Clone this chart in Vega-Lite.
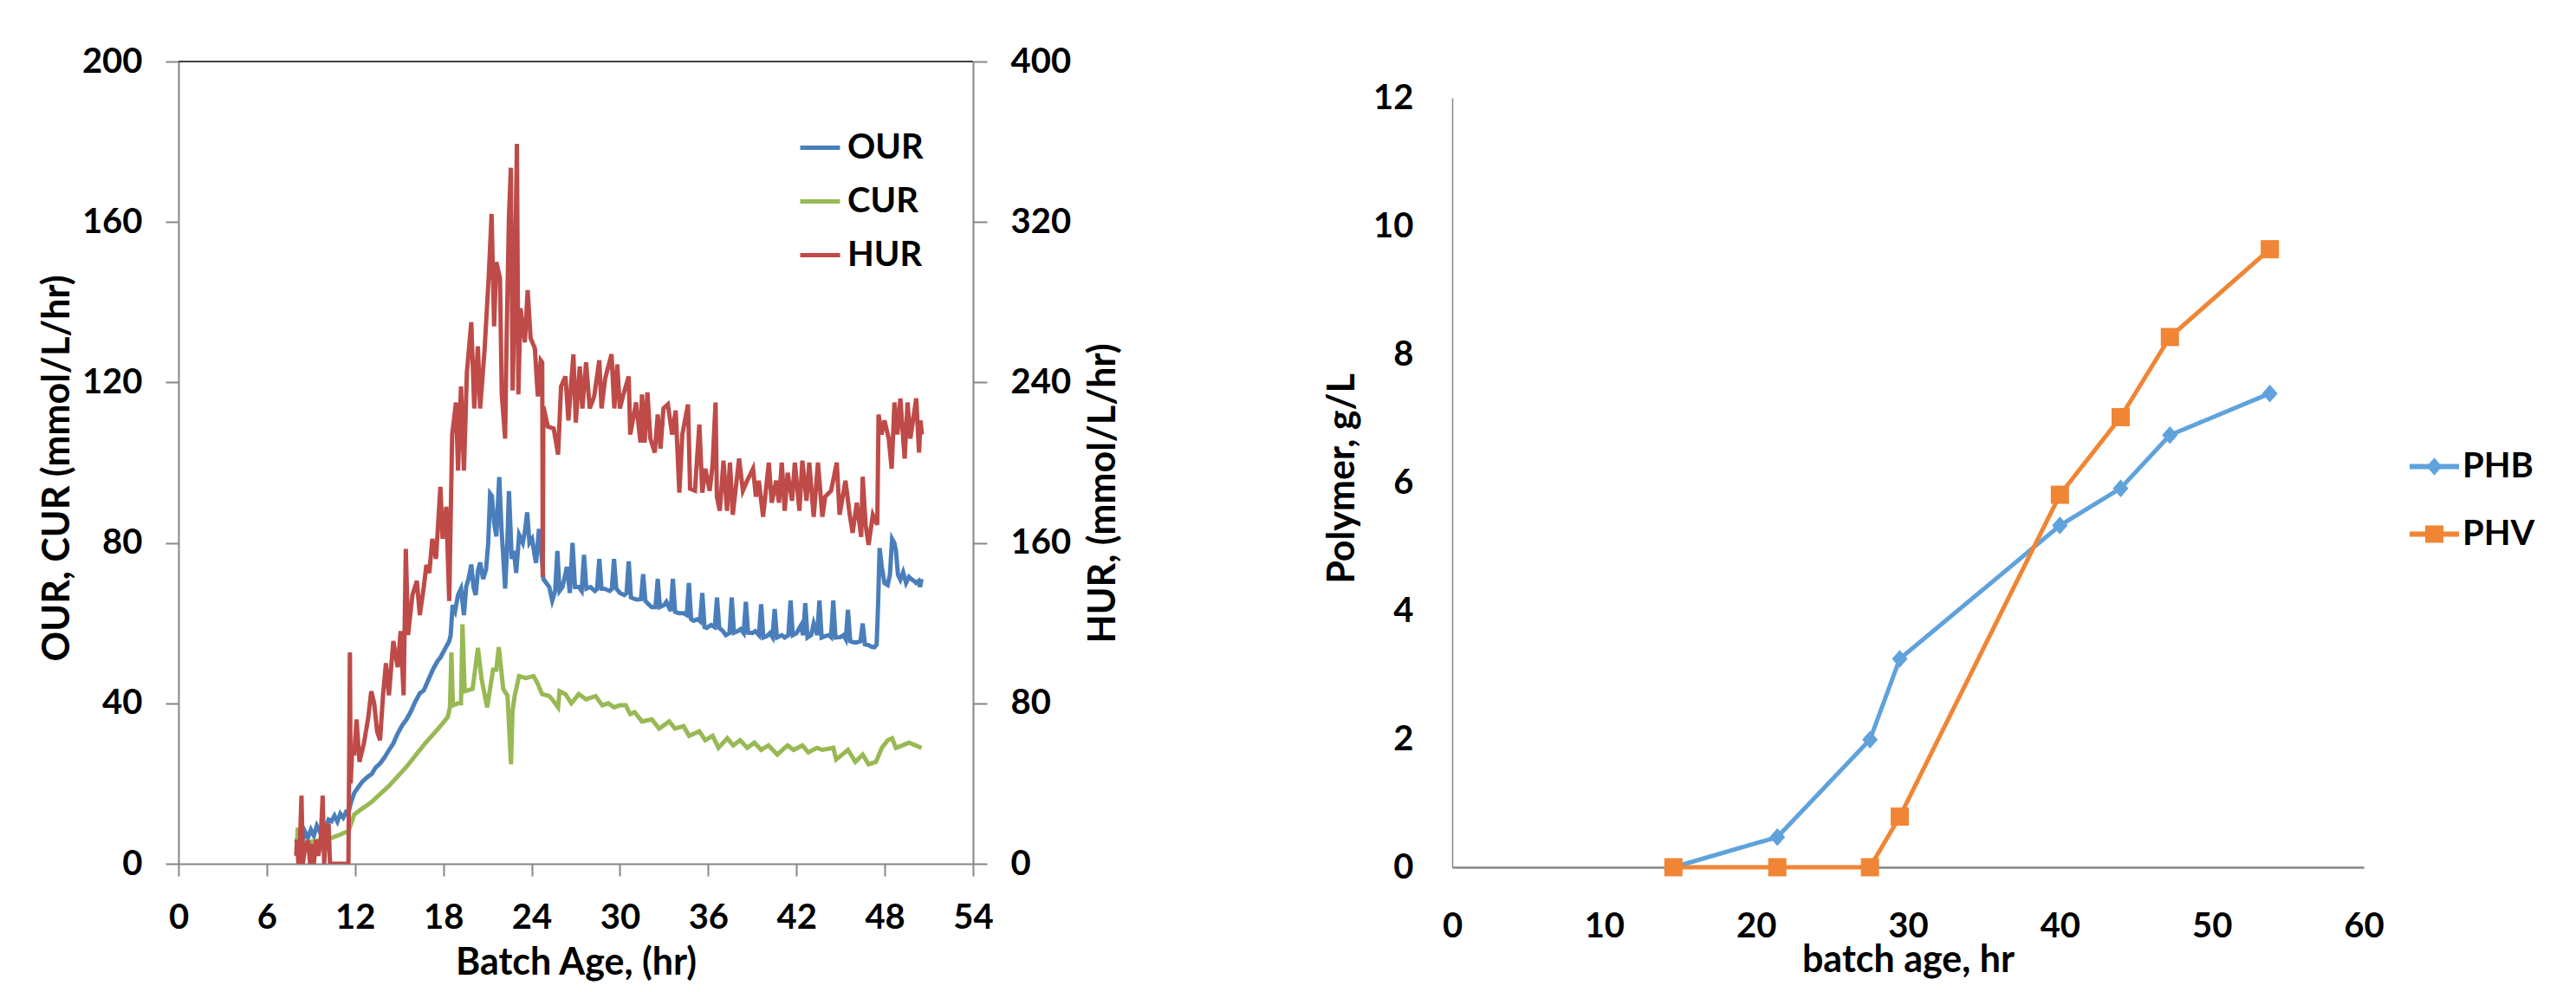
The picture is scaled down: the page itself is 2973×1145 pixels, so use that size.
{
  "$schema": "https://vega.github.io/schema/vega-lite/v6.json",
  "background": "white",
  "padding": {"left": 45, "top": 51, "right": 50, "bottom": 10},
  "config": {
    "view": {"stroke": null},
    "font": "Lato",
    "axis": {
      "labelFont": "Lato", "labelFontSize": 40, "labelFontWeight": "bold", "labelColor": "black",
      "titleFont": "Lato", "titleFontSize": 43, "titleFontWeight": "bold", "titleColor": "black",
      "domainColor": "#868686", "domainWidth": 2, "tickColor": "#868686", "tickWidth": 2,
      "grid": false, "labelFlush": false, "labelOverlap": false
    },
    "legend": {
      "labelFont": "Lato", "labelFontSize": 40, "labelFontWeight": "bold", "labelColor": "black",
      "padding": 0
    }
  },
  "datasets": {
    "rates": [
      {"t": 8.0, "s": "OUR", "v": 5.5}, {"t": 8.2, "s": "OUR", "v": 7.5}, {"t": 8.4, "s": "OUR", "v": 5}, {"t": 8.6, "s": "OUR", "v": 8}, {"t": 8.8, "s": "OUR", "v": 6.5},
      {"t": 9.0, "s": "OUR", "v": 8.5}, {"t": 9.2, "s": "OUR", "v": 7}, {"t": 9.4, "s": "OUR", "v": 9.5}, {"t": 9.6, "s": "OUR", "v": 8}, {"t": 9.8, "s": "OUR", "v": 10},
      {"t": 10.0, "s": "OUR", "v": 9}, {"t": 10.2, "s": "OUR", "v": 11}, {"t": 10.4, "s": "OUR", "v": 10.6}, {"t": 10.6, "s": "OUR", "v": 12}, {"t": 10.8, "s": "OUR", "v": 10.5},
      {"t": 11.0, "s": "OUR", "v": 12.5}, {"t": 11.2, "s": "OUR", "v": 11.5}, {"t": 11.4, "s": "OUR", "v": 13}, {"t": 11.56, "s": "OUR", "v": 12.9}, {"t": 11.7, "s": "OUR", "v": 15},
      {"t": 11.95, "s": "OUR", "v": 17.7}, {"t": 12.2, "s": "OUR", "v": 19}, {"t": 12.5, "s": "OUR", "v": 20.5}, {"t": 12.8, "s": "OUR", "v": 21.5}, {"t": 13.13, "s": "OUR", "v": 22.4},
      {"t": 13.4, "s": "OUR", "v": 24}, {"t": 13.7, "s": "OUR", "v": 25}, {"t": 14.0, "s": "OUR", "v": 26.5}, {"t": 14.3, "s": "OUR", "v": 28.3}, {"t": 14.6, "s": "OUR", "v": 30},
      {"t": 14.9, "s": "OUR", "v": 32.5}, {"t": 15.2, "s": "OUR", "v": 34.5}, {"t": 15.5, "s": "OUR", "v": 36}, {"t": 15.8, "s": "OUR", "v": 38}, {"t": 16.1, "s": "OUR", "v": 40.5},
      {"t": 16.4, "s": "OUR", "v": 42.5}, {"t": 16.67, "s": "OUR", "v": 43.2}, {"t": 17.0, "s": "OUR", "v": 46}, {"t": 17.3, "s": "OUR", "v": 48.5}, {"t": 17.6, "s": "OUR", "v": 50.5},
      {"t": 17.8, "s": "OUR", "v": 51.4}, {"t": 18.1, "s": "OUR", "v": 53.5}, {"t": 18.4, "s": "OUR", "v": 55.5}, {"t": 18.5, "s": "OUR", "v": 57}, {"t": 18.63, "s": "OUR", "v": 64.5},
      {"t": 18.8, "s": "OUR", "v": 63}, {"t": 19.0, "s": "OUR", "v": 67}, {"t": 19.2, "s": "OUR", "v": 68.6}, {"t": 19.4, "s": "OUR", "v": 62}, {"t": 19.55, "s": "OUR", "v": 69},
      {"t": 19.71, "s": "OUR", "v": 71}, {"t": 19.9, "s": "OUR", "v": 74.6}, {"t": 20.05, "s": "OUR", "v": 69}, {"t": 20.2, "s": "OUR", "v": 67}, {"t": 20.35, "s": "OUR", "v": 73},
      {"t": 20.5, "s": "OUR", "v": 75.1}, {"t": 20.7, "s": "OUR", "v": 71}, {"t": 20.9, "s": "OUR", "v": 73.3}, {"t": 21.05, "s": "OUR", "v": 80}, {"t": 21.18, "s": "OUR", "v": 92.3},
      {"t": 21.3, "s": "OUR", "v": 91.7}, {"t": 21.45, "s": "OUR", "v": 85}, {"t": 21.6, "s": "OUR", "v": 81.6}, {"t": 21.8, "s": "OUR", "v": 96.4}, {"t": 21.95, "s": "OUR", "v": 83.5},
      {"t": 22.05, "s": "OUR", "v": 78}, {"t": 22.2, "s": "OUR", "v": 68.6}, {"t": 22.35, "s": "OUR", "v": 80}, {"t": 22.46, "s": "OUR", "v": 92.9}, {"t": 22.65, "s": "OUR", "v": 76},
      {"t": 22.8, "s": "OUR", "v": 78}, {"t": 22.95, "s": "OUR", "v": 72.5}, {"t": 23.15, "s": "OUR", "v": 82}, {"t": 23.4, "s": "OUR", "v": 80}, {"t": 23.55, "s": "OUR", "v": 83},
      {"t": 23.7, "s": "OUR", "v": 87.6}, {"t": 23.85, "s": "OUR", "v": 80}, {"t": 24.03, "s": "OUR", "v": 81}, {"t": 24.2, "s": "OUR", "v": 77}, {"t": 24.3, "s": "OUR", "v": 75},
      {"t": 24.5, "s": "OUR", "v": 83.5}, {"t": 24.65, "s": "OUR", "v": 78}, {"t": 24.8, "s": "OUR", "v": 71}, {"t": 25.0, "s": "OUR", "v": 70}, {"t": 25.2, "s": "OUR", "v": 69},
      {"t": 25.4, "s": "OUR", "v": 65.6}, {"t": 25.6, "s": "OUR", "v": 68}, {"t": 25.75, "s": "OUR", "v": 78}, {"t": 25.9, "s": "OUR", "v": 68}, {"t": 26.1, "s": "OUR", "v": 69},
      {"t": 26.4, "s": "OUR", "v": 74}, {"t": 26.6, "s": "OUR", "v": 67.5}, {"t": 26.78, "s": "OUR", "v": 80}, {"t": 26.95, "s": "OUR", "v": 69}, {"t": 27.2, "s": "OUR", "v": 69},
      {"t": 27.4, "s": "OUR", "v": 68}, {"t": 27.56, "s": "OUR", "v": 77}, {"t": 27.72, "s": "OUR", "v": 68.6}, {"t": 28.0, "s": "OUR", "v": 69}, {"t": 28.3, "s": "OUR", "v": 68},
      {"t": 28.45, "s": "OUR", "v": 68.5}, {"t": 28.6, "s": "OUR", "v": 76}, {"t": 28.75, "s": "OUR", "v": 68.6}, {"t": 29.0, "s": "OUR", "v": 68.5}, {"t": 29.3, "s": "OUR", "v": 68},
      {"t": 29.45, "s": "OUR", "v": 68.5}, {"t": 29.6, "s": "OUR", "v": 76}, {"t": 29.75, "s": "OUR", "v": 68.6}, {"t": 30.0, "s": "OUR", "v": 67.5}, {"t": 30.3, "s": "OUR", "v": 67},
      {"t": 30.45, "s": "OUR", "v": 67.5}, {"t": 30.6, "s": "OUR", "v": 75.4}, {"t": 30.75, "s": "OUR", "v": 66.4}, {"t": 31.0, "s": "OUR", "v": 66}, {"t": 31.2, "s": "OUR", "v": 65.9},
      {"t": 31.43, "s": "OUR", "v": 66}, {"t": 31.58, "s": "OUR", "v": 72.2}, {"t": 31.73, "s": "OUR", "v": 65.5}, {"t": 32.0, "s": "OUR", "v": 64.5}, {"t": 32.17, "s": "OUR", "v": 64},
      {"t": 32.42, "s": "OUR", "v": 64}, {"t": 32.57, "s": "OUR", "v": 71}, {"t": 32.72, "s": "OUR", "v": 64}, {"t": 33.0, "s": "OUR", "v": 64.5}, {"t": 33.16, "s": "OUR", "v": 65.3},
      {"t": 33.45, "s": "OUR", "v": 63}, {"t": 33.6, "s": "OUR", "v": 71}, {"t": 33.75, "s": "OUR", "v": 62.8}, {"t": 34.0, "s": "OUR", "v": 62.5}, {"t": 34.3, "s": "OUR", "v": 62.5},
      {"t": 34.54, "s": "OUR", "v": 62}, {"t": 34.69, "s": "OUR", "v": 70}, {"t": 34.84, "s": "OUR", "v": 61}, {"t": 35.0, "s": "OUR", "v": 60.6}, {"t": 35.3, "s": "OUR", "v": 61},
      {"t": 35.45, "s": "OUR", "v": 60.5}, {"t": 35.6, "s": "OUR", "v": 67.5}, {"t": 35.75, "s": "OUR", "v": 59}, {"t": 35.9, "s": "OUR", "v": 58.8}, {"t": 36.2, "s": "OUR", "v": 59.5},
      {"t": 36.45, "s": "OUR", "v": 59}, {"t": 36.6, "s": "OUR", "v": 66.4}, {"t": 36.75, "s": "OUR", "v": 58.8}, {"t": 37.0, "s": "OUR", "v": 58}, {"t": 37.2, "s": "OUR", "v": 57},
      {"t": 37.45, "s": "OUR", "v": 57.5}, {"t": 37.6, "s": "OUR", "v": 66.4}, {"t": 37.75, "s": "OUR", "v": 57.6}, {"t": 38.0, "s": "OUR", "v": 58}, {"t": 38.2, "s": "OUR", "v": 58.5},
      {"t": 38.41, "s": "OUR", "v": 57.5}, {"t": 38.56, "s": "OUR", "v": 65.3}, {"t": 38.71, "s": "OUR", "v": 57.6}, {"t": 39.0, "s": "OUR", "v": 57.5}, {"t": 39.2, "s": "OUR", "v": 58},
      {"t": 39.45, "s": "OUR", "v": 57}, {"t": 39.6, "s": "OUR", "v": 64.7}, {"t": 39.75, "s": "OUR", "v": 56.4}, {"t": 40.0, "s": "OUR", "v": 56.8}, {"t": 40.2, "s": "OUR", "v": 57.5},
      {"t": 40.37, "s": "OUR", "v": 56.5}, {"t": 40.52, "s": "OUR", "v": 63.5}, {"t": 40.67, "s": "OUR", "v": 56.4}, {"t": 41.0, "s": "OUR", "v": 57}, {"t": 41.2, "s": "OUR", "v": 56.4},
      {"t": 41.45, "s": "OUR", "v": 57}, {"t": 41.6, "s": "OUR", "v": 65.6}, {"t": 41.75, "s": "OUR", "v": 57}, {"t": 42.0, "s": "OUR", "v": 57.5}, {"t": 42.3, "s": "OUR", "v": 59.4},
      {"t": 42.45, "s": "OUR", "v": 57}, {"t": 42.6, "s": "OUR", "v": 65}, {"t": 42.75, "s": "OUR", "v": 56.4}, {"t": 43.0, "s": "OUR", "v": 57}, {"t": 43.17, "s": "OUR", "v": 59.9},
      {"t": 43.41, "s": "OUR", "v": 57}, {"t": 43.56, "s": "OUR", "v": 65.6}, {"t": 43.71, "s": "OUR", "v": 56.4}, {"t": 44.0, "s": "OUR", "v": 56.8}, {"t": 44.2, "s": "OUR", "v": 57},
      {"t": 44.35, "s": "OUR", "v": 56.5}, {"t": 44.5, "s": "OUR", "v": 65.6}, {"t": 44.65, "s": "OUR", "v": 56.4}, {"t": 45.0, "s": "OUR", "v": 56.5}, {"t": 45.2, "s": "OUR", "v": 57},
      {"t": 45.35, "s": "OUR", "v": 56}, {"t": 45.5, "s": "OUR", "v": 63.3}, {"t": 45.65, "s": "OUR", "v": 55.5}, {"t": 45.9, "s": "OUR", "v": 55.2}, {"t": 46.1, "s": "OUR", "v": 55.2},
      {"t": 46.35, "s": "OUR", "v": 55.5}, {"t": 46.5, "s": "OUR", "v": 59.9}, {"t": 46.65, "s": "OUR", "v": 54.7}, {"t": 46.9, "s": "OUR", "v": 54.5}, {"t": 47.1, "s": "OUR", "v": 54.1},
      {"t": 47.3, "s": "OUR", "v": 54}, {"t": 47.45, "s": "OUR", "v": 54.7}, {"t": 47.55, "s": "OUR", "v": 65}, {"t": 47.65, "s": "OUR", "v": 78.7}, {"t": 47.8, "s": "OUR", "v": 74},
      {"t": 47.98, "s": "OUR", "v": 70}, {"t": 48.2, "s": "OUR", "v": 69.5}, {"t": 48.35, "s": "OUR", "v": 72}, {"t": 48.5, "s": "OUR", "v": 81}, {"t": 48.65, "s": "OUR", "v": 80},
      {"t": 48.76, "s": "OUR", "v": 78}, {"t": 48.9, "s": "OUR", "v": 72}, {"t": 49.06, "s": "OUR", "v": 70.8}, {"t": 49.25, "s": "OUR", "v": 72.7}, {"t": 49.45, "s": "OUR", "v": 70},
      {"t": 49.65, "s": "OUR", "v": 71.5}, {"t": 49.8, "s": "OUR", "v": 71}, {"t": 50.0, "s": "OUR", "v": 70.5}, {"t": 50.13, "s": "OUR", "v": 70}, {"t": 50.3, "s": "OUR", "v": 70.5},
      {"t": 50.4, "s": "OUR", "v": 69}, {"t": 50.5, "s": "OUR", "v": 71},

      {"t": 8.05, "s": "CUR", "v": 4}, {"t": 8.1, "s": "CUR", "v": 9}, {"t": 8.2, "s": "CUR", "v": 5}, {"t": 9.0, "s": "CUR", "v": 5.5}, {"t": 10.38, "s": "CUR", "v": 6.4},
      {"t": 11.0, "s": "CUR", "v": 7.3}, {"t": 11.56, "s": "CUR", "v": 8.2}, {"t": 11.95, "s": "CUR", "v": 12.3}, {"t": 12.5, "s": "CUR", "v": 13.8}, {"t": 13.1, "s": "CUR", "v": 15.3},
      {"t": 14.3, "s": "CUR", "v": 19.4}, {"t": 15.5, "s": "CUR", "v": 24.2}, {"t": 16.67, "s": "CUR", "v": 29.6}, {"t": 17.8, "s": "CUR", "v": 34.3}, {"t": 18.3, "s": "CUR", "v": 36.6},
      {"t": 18.45, "s": "CUR", "v": 39}, {"t": 18.55, "s": "CUR", "v": 52.7}, {"t": 18.65, "s": "CUR", "v": 39.5}, {"t": 19.0, "s": "CUR", "v": 40}, {"t": 19.2, "s": "CUR", "v": 40},
      {"t": 19.3, "s": "CUR", "v": 59.7}, {"t": 19.45, "s": "CUR", "v": 43}, {"t": 19.99, "s": "CUR", "v": 43.6}, {"t": 20.35, "s": "CUR", "v": 53.8}, {"t": 20.6, "s": "CUR", "v": 46},
      {"t": 20.98, "s": "CUR", "v": 39}, {"t": 21.38, "s": "CUR", "v": 48.4}, {"t": 21.6, "s": "CUR", "v": 48.4}, {"t": 21.77, "s": "CUR", "v": 54}, {"t": 22.07, "s": "CUR", "v": 43.6},
      {"t": 22.36, "s": "CUR", "v": 41.9}, {"t": 22.6, "s": "CUR", "v": 24.8}, {"t": 22.7, "s": "CUR", "v": 38}, {"t": 22.85, "s": "CUR", "v": 41.9}, {"t": 23.15, "s": "CUR", "v": 46.8},
      {"t": 23.6, "s": "CUR", "v": 46.3}, {"t": 24.13, "s": "CUR", "v": 46.8}, {"t": 24.4, "s": "CUR", "v": 45}, {"t": 24.71, "s": "CUR", "v": 42.3}, {"t": 25.2, "s": "CUR", "v": 41.8},
      {"t": 25.5, "s": "CUR", "v": 40.5}, {"t": 25.8, "s": "CUR", "v": 39}, {"t": 25.9, "s": "CUR", "v": 43}, {"t": 26.3, "s": "CUR", "v": 42.3}, {"t": 26.7, "s": "CUR", "v": 40},
      {"t": 27.2, "s": "CUR", "v": 42.3}, {"t": 27.7, "s": "CUR", "v": 41}, {"t": 28.35, "s": "CUR", "v": 41.8}, {"t": 28.8, "s": "CUR", "v": 39.5}, {"t": 29.2, "s": "CUR", "v": 40},
      {"t": 29.6, "s": "CUR", "v": 39}, {"t": 30.0, "s": "CUR", "v": 39.5}, {"t": 30.4, "s": "CUR", "v": 39.5}, {"t": 30.7, "s": "CUR", "v": 37.3}, {"t": 31.0, "s": "CUR", "v": 37.8},
      {"t": 31.5, "s": "CUR", "v": 35.5}, {"t": 32.17, "s": "CUR", "v": 36}, {"t": 32.67, "s": "CUR", "v": 33.7}, {"t": 33.35, "s": "CUR", "v": 35.5}, {"t": 33.75, "s": "CUR", "v": 33.7},
      {"t": 34.33, "s": "CUR", "v": 34.3}, {"t": 34.7, "s": "CUR", "v": 31.9}, {"t": 35.4, "s": "CUR", "v": 33}, {"t": 35.8, "s": "CUR", "v": 30.8}, {"t": 36.3, "s": "CUR", "v": 31.9},
      {"t": 36.7, "s": "CUR", "v": 28.9}, {"t": 37.3, "s": "CUR", "v": 31.3}, {"t": 37.7, "s": "CUR", "v": 29.5}, {"t": 38.17, "s": "CUR", "v": 30.8}, {"t": 38.65, "s": "CUR", "v": 28.9},
      {"t": 39.14, "s": "CUR", "v": 30.2}, {"t": 39.6, "s": "CUR", "v": 28.4}, {"t": 40.1, "s": "CUR", "v": 29.5}, {"t": 40.7, "s": "CUR", "v": 27.2}, {"t": 41.2, "s": "CUR", "v": 28.9},
      {"t": 41.4, "s": "CUR", "v": 29.5}, {"t": 41.8, "s": "CUR", "v": 28.4}, {"t": 42.4, "s": "CUR", "v": 29.5}, {"t": 42.8, "s": "CUR", "v": 27.8}, {"t": 43.4, "s": "CUR", "v": 28.9},
      {"t": 43.76, "s": "CUR", "v": 28.4}, {"t": 44.5, "s": "CUR", "v": 28.9}, {"t": 44.7, "s": "CUR", "v": 26}, {"t": 45.5, "s": "CUR", "v": 28.4}, {"t": 46.0, "s": "CUR", "v": 25.4},
      {"t": 46.5, "s": "CUR", "v": 27.2}, {"t": 46.9, "s": "CUR", "v": 24.8}, {"t": 47.4, "s": "CUR", "v": 25.4}, {"t": 47.8, "s": "CUR", "v": 28.9}, {"t": 48.2, "s": "CUR", "v": 30.8},
      {"t": 48.5, "s": "CUR", "v": 31.3}, {"t": 48.76, "s": "CUR", "v": 28.9}, {"t": 49.2, "s": "CUR", "v": 29.5}, {"t": 49.65, "s": "CUR", "v": 30.2}, {"t": 50.1, "s": "CUR", "v": 29.5},
      {"t": 50.5, "s": "CUR", "v": 28.9},

      {"t": 8.0, "s": "HUR", "v": 4}, {"t": 8.05, "s": "HUR", "v": 12}, {"t": 8.15, "s": "HUR", "v": 0}, {"t": 8.25, "s": "HUR", "v": 10}, {"t": 8.36, "s": "HUR", "v": 34},
      {"t": 8.45, "s": "HUR", "v": 0}, {"t": 8.6, "s": "HUR", "v": 8}, {"t": 8.8, "s": "HUR", "v": 11.6}, {"t": 8.95, "s": "HUR", "v": 0}, {"t": 9.1, "s": "HUR", "v": 10},
      {"t": 9.2, "s": "HUR", "v": 0}, {"t": 9.35, "s": "HUR", "v": 12}, {"t": 9.5, "s": "HUR", "v": 4}, {"t": 9.65, "s": "HUR", "v": 10}, {"t": 9.8, "s": "HUR", "v": 34},
      {"t": 9.9, "s": "HUR", "v": 0}, {"t": 10.05, "s": "HUR", "v": 16}, {"t": 10.2, "s": "HUR", "v": 20}, {"t": 10.3, "s": "HUR", "v": 0}, {"t": 11.55, "s": "HUR", "v": 0},
      {"t": 11.65, "s": "HUR", "v": 105.4}, {"t": 11.7, "s": "HUR", "v": 40}, {"t": 11.8, "s": "HUR", "v": 56}, {"t": 11.95, "s": "HUR", "v": 55.4}, {"t": 12.1, "s": "HUR", "v": 72},
      {"t": 12.3, "s": "HUR", "v": 50.8}, {"t": 12.6, "s": "HUR", "v": 60}, {"t": 12.9, "s": "HUR", "v": 73}, {"t": 13.1, "s": "HUR", "v": 86}, {"t": 13.3, "s": "HUR", "v": 80},
      {"t": 13.5, "s": "HUR", "v": 66}, {"t": 13.7, "s": "HUR", "v": 61.6}, {"t": 13.9, "s": "HUR", "v": 84}, {"t": 14.1, "s": "HUR", "v": 100}, {"t": 14.3, "s": "HUR", "v": 84},
      {"t": 14.6, "s": "HUR", "v": 111}, {"t": 14.9, "s": "HUR", "v": 98}, {"t": 15.1, "s": "HUR", "v": 116}, {"t": 15.3, "s": "HUR", "v": 84}, {"t": 15.45, "s": "HUR", "v": 157},
      {"t": 15.6, "s": "HUR", "v": 114}, {"t": 15.9, "s": "HUR", "v": 134}, {"t": 16.2, "s": "HUR", "v": 141}, {"t": 16.4, "s": "HUR", "v": 124}, {"t": 16.67, "s": "HUR", "v": 138},
      {"t": 16.85, "s": "HUR", "v": 149}, {"t": 17.05, "s": "HUR", "v": 145}, {"t": 17.25, "s": "HUR", "v": 162}, {"t": 17.5, "s": "HUR", "v": 152}, {"t": 17.8, "s": "HUR", "v": 188},
      {"t": 17.95, "s": "HUR", "v": 162}, {"t": 18.2, "s": "HUR", "v": 178}, {"t": 18.4, "s": "HUR", "v": 131}, {"t": 18.6, "s": "HUR", "v": 214}, {"t": 18.86, "s": "HUR", "v": 230},
      {"t": 19.0, "s": "HUR", "v": 196}, {"t": 19.2, "s": "HUR", "v": 238}, {"t": 19.4, "s": "HUR", "v": 196}, {"t": 19.6, "s": "HUR", "v": 245}, {"t": 19.9, "s": "HUR", "v": 270},
      {"t": 20.1, "s": "HUR", "v": 227}, {"t": 20.35, "s": "HUR", "v": 258}, {"t": 20.5, "s": "HUR", "v": 227}, {"t": 20.8, "s": "HUR", "v": 256}, {"t": 21.08, "s": "HUR", "v": 292},
      {"t": 21.28, "s": "HUR", "v": 324}, {"t": 21.45, "s": "HUR", "v": 268}, {"t": 21.6, "s": "HUR", "v": 300}, {"t": 21.85, "s": "HUR", "v": 292}, {"t": 21.97, "s": "HUR", "v": 234},
      {"t": 22.2, "s": "HUR", "v": 212}, {"t": 22.3, "s": "HUR", "v": 262}, {"t": 22.46, "s": "HUR", "v": 323}, {"t": 22.59, "s": "HUR", "v": 347}, {"t": 22.71, "s": "HUR", "v": 236},
      {"t": 22.85, "s": "HUR", "v": 282}, {"t": 23.0, "s": "HUR", "v": 359}, {"t": 23.1, "s": "HUR", "v": 234}, {"t": 23.24, "s": "HUR", "v": 277}, {"t": 23.54, "s": "HUR", "v": 260},
      {"t": 23.73, "s": "HUR", "v": 286}, {"t": 23.93, "s": "HUR", "v": 262}, {"t": 24.22, "s": "HUR", "v": 257}, {"t": 24.42, "s": "HUR", "v": 233}, {"t": 24.62, "s": "HUR", "v": 251},
      {"t": 24.72, "s": "HUR", "v": 250}, {"t": 24.76, "s": "HUR", "v": 143}, {"t": 24.8, "s": "HUR", "v": 228}, {"t": 25.1, "s": "HUR", "v": 218}, {"t": 25.5, "s": "HUR", "v": 217},
      {"t": 25.8, "s": "HUR", "v": 204}, {"t": 26.0, "s": "HUR", "v": 238}, {"t": 26.3, "s": "HUR", "v": 243}, {"t": 26.5, "s": "HUR", "v": 221}, {"t": 26.84, "s": "HUR", "v": 254},
      {"t": 27.0, "s": "HUR", "v": 220}, {"t": 27.27, "s": "HUR", "v": 248}, {"t": 27.45, "s": "HUR", "v": 227}, {"t": 27.7, "s": "HUR", "v": 250}, {"t": 27.95, "s": "HUR", "v": 227},
      {"t": 28.25, "s": "HUR", "v": 233}, {"t": 28.6, "s": "HUR", "v": 251}, {"t": 28.75, "s": "HUR", "v": 227}, {"t": 29.0, "s": "HUR", "v": 242}, {"t": 29.43, "s": "HUR", "v": 254},
      {"t": 29.62, "s": "HUR", "v": 227}, {"t": 29.82, "s": "HUR", "v": 249}, {"t": 30.0, "s": "HUR", "v": 227}, {"t": 30.2, "s": "HUR", "v": 233}, {"t": 30.4, "s": "HUR", "v": 238},
      {"t": 30.6, "s": "HUR", "v": 243}, {"t": 30.7, "s": "HUR", "v": 214}, {"t": 31.1, "s": "HUR", "v": 230}, {"t": 31.4, "s": "HUR", "v": 210}, {"t": 31.5, "s": "HUR", "v": 234},
      {"t": 31.68, "s": "HUR", "v": 210}, {"t": 31.87, "s": "HUR", "v": 235}, {"t": 32.07, "s": "HUR", "v": 212}, {"t": 32.37, "s": "HUR", "v": 205}, {"t": 32.57, "s": "HUR", "v": 224},
      {"t": 32.76, "s": "HUR", "v": 207}, {"t": 32.96, "s": "HUR", "v": 227}, {"t": 33.26, "s": "HUR", "v": 229}, {"t": 33.55, "s": "HUR", "v": 214}, {"t": 33.79, "s": "HUR", "v": 226},
      {"t": 34.04, "s": "HUR", "v": 185}, {"t": 34.24, "s": "HUR", "v": 214}, {"t": 34.63, "s": "HUR", "v": 229}, {"t": 34.77, "s": "HUR", "v": 187}, {"t": 35.1, "s": "HUR", "v": 186},
      {"t": 35.4, "s": "HUR", "v": 219}, {"t": 35.6, "s": "HUR", "v": 185}, {"t": 35.8, "s": "HUR", "v": 197}, {"t": 36.1, "s": "HUR", "v": 186}, {"t": 36.3, "s": "HUR", "v": 199},
      {"t": 36.5, "s": "HUR", "v": 230}, {"t": 36.59, "s": "HUR", "v": 183}, {"t": 36.79, "s": "HUR", "v": 176}, {"t": 37.04, "s": "HUR", "v": 201}, {"t": 37.28, "s": "HUR", "v": 176},
      {"t": 37.48, "s": "HUR", "v": 200}, {"t": 37.67, "s": "HUR", "v": 174}, {"t": 38.1, "s": "HUR", "v": 202}, {"t": 38.36, "s": "HUR", "v": 186}, {"t": 38.65, "s": "HUR", "v": 191},
      {"t": 39.05, "s": "HUR", "v": 197}, {"t": 39.24, "s": "HUR", "v": 183}, {"t": 39.44, "s": "HUR", "v": 191}, {"t": 39.73, "s": "HUR", "v": 173}, {"t": 40.12, "s": "HUR", "v": 200},
      {"t": 40.32, "s": "HUR", "v": 180}, {"t": 40.62, "s": "HUR", "v": 191}, {"t": 40.81, "s": "HUR", "v": 180}, {"t": 41.0, "s": "HUR", "v": 200}, {"t": 41.2, "s": "HUR", "v": 176},
      {"t": 41.4, "s": "HUR", "v": 195}, {"t": 41.7, "s": "HUR", "v": 181}, {"t": 41.89, "s": "HUR", "v": 200}, {"t": 42.2, "s": "HUR", "v": 176}, {"t": 42.4, "s": "HUR", "v": 201},
      {"t": 42.68, "s": "HUR", "v": 181}, {"t": 42.87, "s": "HUR", "v": 200}, {"t": 43.17, "s": "HUR", "v": 173}, {"t": 43.46, "s": "HUR", "v": 200}, {"t": 43.76, "s": "HUR", "v": 173},
      {"t": 43.95, "s": "HUR", "v": 183}, {"t": 44.35, "s": "HUR", "v": 186}, {"t": 44.74, "s": "HUR", "v": 200}, {"t": 44.93, "s": "HUR", "v": 174}, {"t": 45.33, "s": "HUR", "v": 191},
      {"t": 45.62, "s": "HUR", "v": 174}, {"t": 45.82, "s": "HUR", "v": 165}, {"t": 46.1, "s": "HUR", "v": 180}, {"t": 46.4, "s": "HUR", "v": 163}, {"t": 46.5, "s": "HUR", "v": 193},
      {"t": 46.7, "s": "HUR", "v": 169}, {"t": 46.9, "s": "HUR", "v": 159}, {"t": 47.19, "s": "HUR", "v": 174}, {"t": 47.49, "s": "HUR", "v": 169}, {"t": 47.58, "s": "HUR", "v": 224},
      {"t": 47.78, "s": "HUR", "v": 214}, {"t": 47.98, "s": "HUR", "v": 221}, {"t": 48.27, "s": "HUR", "v": 212}, {"t": 48.47, "s": "HUR", "v": 197}, {"t": 48.66, "s": "HUR", "v": 230},
      {"t": 48.86, "s": "HUR", "v": 214}, {"t": 49.06, "s": "HUR", "v": 232}, {"t": 49.35, "s": "HUR", "v": 202}, {"t": 49.55, "s": "HUR", "v": 230}, {"t": 49.74, "s": "HUR", "v": 212},
      {"t": 50.14, "s": "HUR", "v": 232}, {"t": 50.33, "s": "HUR", "v": 205}, {"t": 50.43, "s": "HUR", "v": 221}, {"t": 50.53, "s": "HUR", "v": 214}
    ],
    "polymer": [
      {"t": 14.56, "s": "PHB", "g": 0}, {"t": 21.4, "s": "PHB", "g": 0.47}, {"t": 27.5, "s": "PHB", "g": 1.99}, {"t": 29.46, "s": "PHB", "g": 3.25},
      {"t": 40.0, "s": "PHB", "g": 5.33}, {"t": 44.0, "s": "PHB", "g": 5.91}, {"t": 47.24, "s": "PHB", "g": 6.74}, {"t": 53.82, "s": "PHB", "g": 7.39},
      {"t": 14.56, "s": "PHV", "g": 0}, {"t": 21.4, "s": "PHV", "g": 0}, {"t": 27.5, "s": "PHV", "g": 0}, {"t": 29.46, "s": "PHV", "g": 0.79},
      {"t": 40.0, "s": "PHV", "g": 5.81}, {"t": 44.0, "s": "PHV", "g": 7.02}, {"t": 47.24, "s": "PHV", "g": 8.27}, {"t": 53.82, "s": "PHV", "g": 9.64}
    ]
  },
  "bounds": "flush",
  "spacing": 553,
  "resolve": {"scale": {"color": "independent", "shape": "independent"}, "legend": {"color": "independent", "shape": "independent"}},
  "hconcat": [
    {
      "width": 917,
      "height": 926,
      "data": {"name": "rates"},
      "resolve": {"scale": {"y": "independent"}},
      "layer": [
        {
          "transform": [{"filter": "datum.s !== 'HUR'"}],
          "mark": {"type": "line", "strokeWidth": 5, "clip": true},
          "encoding": {
            "x": {"field": "t", "type": "quantitative",
              "scale": {"domain": [0, 54], "nice": false, "zero": false},
              "axis": {"values": [0, 6, 12, 18, 24, 30, 36, 42, 48, 54], "title": "Batch Age, (hr)",
                "tickSize": 14, "labelPadding": 28, "titleBaseline": "middle", "titleY": 114}},
            "y": {"field": "v", "type": "quantitative",
              "scale": {"domain": [0, 200], "nice": false},
              "axis": {"values": [0, 40, 80, 120, 160, 200], "title": "OUR, CUR (mmol/L/hr)",
                "tickSize": 15, "labelPadding": 27, "titleAngle": -90, "titleAlign": "center",
                "titleBaseline": "middle", "titleX": -140, "titleY": 469}},
            "color": {"field": "s", "type": "nominal",
              "scale": {"domain": ["OUR", "CUR", "HUR"], "range": ["#4A7EBB", "#98B954", "#BE4B48"]},
              "legend": {"orient": "none", "legendX": 715, "legendY": 74, "title": null,
                "symbolType": "stroke", "symbolSize": 2116, "symbolStrokeWidth": 5,
                "rowPadding": 16, "labelOffset": 6}}
          }
        },
        {
          "transform": [{"filter": "datum.s === 'HUR'"}],
          "mark": {"type": "line", "strokeWidth": 5, "clip": true},
          "encoding": {
            "x": {"field": "t", "type": "quantitative"},
            "y": {"field": "v", "type": "quantitative",
              "scale": {"domain": [0, 400], "nice": false},
              "axis": {"orient": "right", "values": [0, 80, 160, 240, 320, 400], "title": "HUR, (mmol/L/hr)",
                "tickSize": 16, "labelPadding": 27, "titleAngle": -90, "titleAlign": "center",
                "titleBaseline": "middle", "titleX": 150, "titleY": 498}},
            "color": {"field": "s", "type": "nominal"}
          }
        },
        {
          "data": {"values": [{"edge": "top"}]},
          "mark": {"type": "rule", "color": "black", "strokeWidth": 1.5},
          "encoding": {
            "y": {"datum": 200, "type": "quantitative", "scale": {"domain": [0, 200], "nice": false}, "axis": null}
          }
        }
      ]
    },
    {
      "width": 1052,
      "height": 930,
      "data": {"name": "polymer"},
      "resolve": {"scale": {"color": "independent", "shape": "independent"}, "legend": {"color": "independent", "shape": "independent"}},
      "layer": [
        {
          "mark": {"type": "line", "strokeWidth": 5},
          "encoding": {
            "x": {"field": "t", "type": "quantitative",
              "scale": {"domain": [0, 60], "nice": false},
              "axis": {"values": [0, 10, 20, 30, 40, 50, 60], "title": "batch age, hr", "ticks": false,
                "labelPadding": 48, "domainWidth": 2.5, "titleBaseline": "middle", "titleY": 107}},
            "y": {"field": "g", "type": "quantitative",
              "scale": {"domain": [0, 12], "nice": false, "range": [930, 42]},
              "axis": {"values": [0, 2, 4, 6, 8, 10, 12], "format": "d", "title": "Polymer, g/L", "ticks": false,
                "labelPadding": 45, "domainWidth": 1.5, "titleAngle": -90, "titleAlign": "center",
                "titleBaseline": "middle", "titleX": -127, "titleY": 481}},
            "color": {"field": "s", "type": "nominal",
              "scale": {"domain": ["PHB", "PHV"], "range": ["#5FA2DC", "#F08535"]},
              "legend": null}
          }
        },
        {
          "transform": [{"filter": "datum.s === 'PHB'"}],
          "mark": {"type": "point", "filled": true, "opacity": 1, "shape": "M0,-1L0.88,0L0,1L-0.88,0Z", "size": 420},
          "encoding": {
            "x": {"field": "t", "type": "quantitative"},
            "y": {"field": "g", "type": "quantitative"},
            "color": {"field": "s", "type": "nominal",
              "scale": {"domain": ["PHB", "PHV"], "range": ["#5FA2DC", "#F08535"]}, "legend": null}
          }
        },
        {
          "transform": [{"filter": "datum.s === 'PHV'"}],
          "mark": {"type": "point", "filled": true, "opacity": 1, "shape": "square", "size": 440},
          "encoding": {
            "x": {"field": "t", "type": "quantitative"},
            "y": {"field": "g", "type": "quantitative"},
            "color": {"field": "s", "type": "nominal",
              "scale": {"domain": ["PHB", "PHV"], "range": ["#5FA2DC", "#F08535"]}, "legend": null}
          }
        },
        {
          "transform": [{"filter": "datum.t < 0"}],
          "mark": {"type": "point", "filled": true, "opacity": 1, "size": 3249},
          "encoding": {
            "x": {"field": "t", "type": "quantitative"},
            "y": {"field": "g", "type": "quantitative"},
            "color": {"field": "s", "type": "nominal",
              "scale": {"domain": ["PHB", "PHV"], "range": ["#5FA2DC", "#F08535"]},
              "legend": {"orient": "none", "legendX": 1105, "legendY": 439, "title": null,
                "symbolSize": 3249, "symbolStrokeWidth": 0, "rowPadding": 29, "labelOffset": 4}},
            "shape": {"field": "s", "type": "nominal",
              "scale": {"domain": ["PHB", "PHV"], "range": [
                "M-1,-0.105L1,-0.105L1,0.105L-1,0.105Z M0,-0.36L0.31,0L0,0.36L-0.31,0Z",
                "M-1,-0.105L1,-0.105L1,0.105L-1,0.105Z M-0.37,-0.35L0.37,-0.35L0.37,0.35L-0.37,0.35Z"]},
              "legend": {"orient": "none", "legendX": 1105, "legendY": 439, "title": null,
                "symbolSize": 3249, "symbolStrokeWidth": 0, "rowPadding": 29, "labelOffset": 4}}
          }
        }
      ]
    }
  ]
}
